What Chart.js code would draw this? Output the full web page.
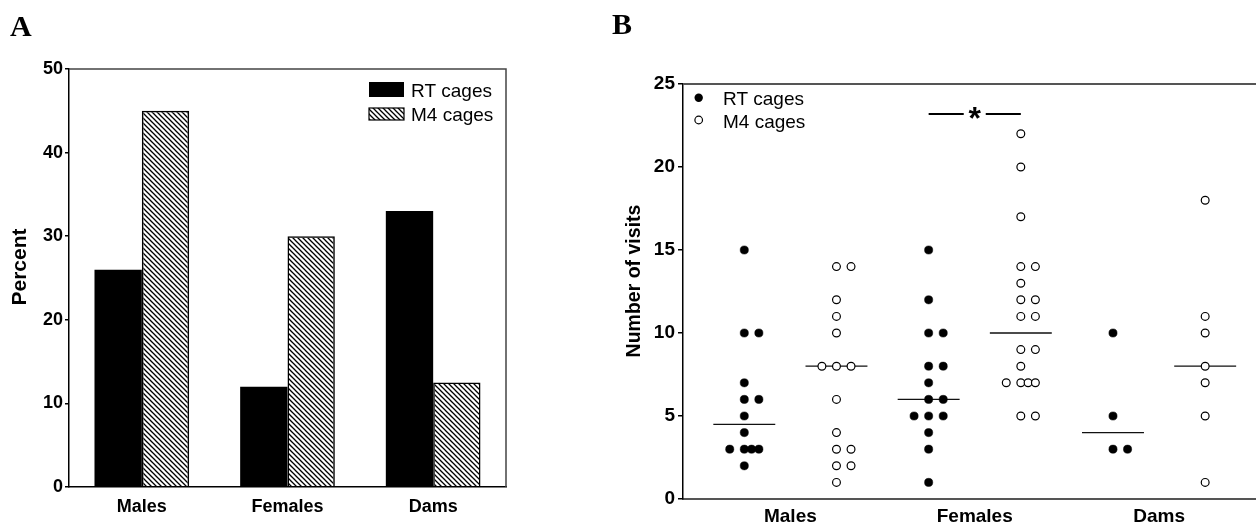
<!DOCTYPE html>
<html>
<head>
<meta charset="utf-8">
<script src="https://cdn.jsdelivr.net/npm/chart.js@4.4.1/dist/chart.umd.min.js"></script>
<style>
  body { margin: 0; background: #fff; }
  #wrap { position: relative; width: 1256px; height: 524px; overflow: hidden; }
  canvas { position: absolute; top: 0; }
  .panel { position: absolute; font-family: "Liberation Serif", "Times New Roman", serif; font-weight: bold; font-size: 30px; line-height: 30px; }
</style>
</head>
<body>
<div id="wrap">
  <canvas id="chartA" width="560" height="524" style="left:0"></canvas>
  <canvas id="chartB" width="696" height="524" style="left:560px"></canvas>
  <div class="panel" style="left:10px; top:11px">A</div>
  <div class="panel" style="left:612px; top:9px">B</div>
</div>
<script>
// ---- data ----
var groups = ["Males", "Females", "Dams"];
var pctRT = [26, 12, 33];
var pctM4 = [45, 30, 12.5];
var seriesNames = ["RT cages", "M4 cages"];

var visitsMalesRT = [15, 10, 10, 7, 6, 6, 5, 4, 3, 3, 3, 3, 2];
var visitsMalesM4 = [14, 14, 12, 11, 10, 8, 8, 8, 6, 4, 3, 3, 2, 2, 1];
var visitsFemalesRT = [15, 12, 10, 10, 8, 8, 7, 6, 6, 5, 5, 5, 4, 3, 1];
var visitsFemalesM4 = [22, 20, 17, 14, 14, 13, 12, 12, 11, 11, 9, 9, 8, 7, 7, 7, 7, 5, 5];
var visitsDamsRT = [10, 5, 3, 3];
var visitsDamsM4 = [18, 11, 10, 8, 7, 5, 1];
var medianVisits = [4.5, 8, 6, 10, 4, 8];
var sigLevel = 23.2;   // "*" bar between Females RT and M4

Chart.defaults.font.family = "'Liberation Sans', Arial, Helvetica, sans-serif";
Chart.defaults.color = "#000";

// hatch pattern for M4 bars
function makeHatch() {
	var c = document.createElement("canvas");
	c.width = 5; c.height = 5;
	var g = c.getContext("2d");
	g.strokeStyle = "#000";
	g.lineWidth = 1.25;
	[-5, 0, 5].forEach(function(o){
		g.beginPath();
		g.moveTo(o - 1, -1);
		g.lineTo(o + 6, 6);
		g.stroke();
	});
	return document.getElementById("chartA").getContext("2d").createPattern(c, "repeat");
}
var hatch = makeHatch();

function vText(ctx, txt, x, y, size){
	ctx.save();
	ctx.translate(x, y);
	ctx.rotate(-Math.PI / 2);
	ctx.font = "bold " + size + "px 'Liberation Sans', Arial, sans-serif";
	ctx.textAlign = "center";
	ctx.textBaseline = "middle";
	ctx.fillStyle = "#000";
	ctx.fillText(txt, 0, 0);
	ctx.restore();
}

// ---- panel A ----
var boxA = {
	id: "boxA",
	afterDraw: function(chart){
		var ctx = chart.ctx, a = chart.chartArea;
		ctx.save();
		ctx.strokeStyle = "#444";
		ctx.lineWidth = 1.5;
		ctx.beginPath();
		ctx.moveTo(a.left, a.top);
		ctx.lineTo(a.right, a.top);
		ctx.lineTo(a.right, a.bottom);
		ctx.stroke();
		// legend
		ctx.fillStyle = "#000";
		ctx.fillRect(369, 82, 35, 15);
		ctx.fillStyle = hatch;
		ctx.fillRect(369, 108, 35, 12);
		ctx.lineWidth = 1.2;
		ctx.strokeStyle = "#000";
		ctx.strokeRect(369, 108, 35, 12);
		ctx.fillStyle = "#000";
		ctx.font = "19px 'Liberation Sans', Arial, sans-serif";
		ctx.textBaseline = "alphabetic";
		ctx.fillText(seriesNames[0], 411, 97);
		ctx.fillText(seriesNames[1], 411, 121);
		ctx.restore();
		vText(ctx, "Percent", 20, 267, 21);
	}
};

new Chart(document.getElementById("chartA"), {
	type: "bar",
	data: {
		labels: groups,
		datasets: [
			{ label: seriesNames[0], data: pctRT, backgroundColor: "#000", borderWidth: 0,
			  categoryPercentage: 0.65, barPercentage: 1 },
			{ label: seriesNames[1], data: pctM4, backgroundColor: hatch, borderColor: "#000", borderWidth: 1.5,
			  categoryPercentage: 0.65, barPercentage: 1 }
		]
	},
	options: {
		responsive: false,
		animation: false,
		layout: { padding: { left: 5, top: 69, right: 54, bottom: 0 } },
		plugins: { legend: { display: false }, tooltip: { enabled: false } },
		scales: {
			x: {
				grid: { display: false, drawTicks: false },
				border: { color: "#000", width: 1.5 },
				ticks: { font: { size: 18, weight: "bold" }, padding: 9 },
				afterFit: function(s){ s.height = 37; }
			},
			y: {
				min: 0, max: 50,
				ticks: { stepSize: 10, font: { size: 18, weight: "bold" }, padding: 2 },
				grid: { drawOnChartArea: false, tickLength: 4, color: "#000", lineWidth: 1.5 },
				border: { color: "#000", width: 1.5 },
				afterFit: function(s){ s.width = 64; }
			}
		}
	},
	plugins: [boxA]
});

// ---- panel B ----
var SLOT_W = 0.158;
var SLOTS = { 1: [0], 2: [0, 1], 3: [-1, 0, 1], 4: [-1, 0, 0.5, 1] };
function swarm(values, col){
	var counts = {}, seen = {};
	values.forEach(function(v){ counts[v] = (counts[v] || 0) + 1; });
	return values.map(function(v){
		var k = seen[v] || 0;
		seen[v] = k + 1;
		return { x: col + SLOTS[counts[v]][k] * SLOT_W, y: v };
	});
}

var rtPoints = swarm(visitsMalesRT, 0).concat(swarm(visitsFemalesRT, 2), swarm(visitsDamsRT, 4));
var m4Points = swarm(visitsMalesM4, 1).concat(swarm(visitsFemalesM4, 3), swarm(visitsDamsM4, 5));

var MED_HALF = 0.336;
var medianPts = [];
medianVisits.forEach(function(m, c){
	medianPts.push({ x: c - MED_HALF, y: m }, { x: c + MED_HALF, y: m }, { x: c + 0.5, y: null });
});
var sigPts = [{ x: 2, y: sigLevel }, { x: 3, y: sigLevel }];

var boxB = {
	id: "boxB",
	afterDraw: function(chart){
		var ctx = chart.ctx, a = chart.chartArea;
		var xs = chart.scales.x, ys = chart.scales.y;
		ctx.save();
		ctx.strokeStyle = "#555";
		ctx.lineWidth = 2;
		ctx.beginPath();
		ctx.moveTo(a.left, a.top);
		ctx.lineTo(chart.width, a.top);
		ctx.moveTo(a.right - 2, a.bottom);
		ctx.lineTo(chart.width, a.bottom);
		ctx.stroke();
		// star over the significance bar
		var sx = xs.getPixelForValue(2.5), sy = ys.getPixelForValue(sigLevel);
		ctx.fillStyle = "#fff";
		ctx.fillRect(sx - 11, sy - 3, 22, 6);
		ctx.fillStyle = "#000";
		ctx.font = "bold 32px 'Liberation Sans', Arial, sans-serif";
		ctx.textAlign = "center";
		ctx.textBaseline = "alphabetic";
		ctx.fillText("*", sx, sy + 15);
		// legend
		ctx.lineWidth = 1.2;
		ctx.beginPath();
		ctx.arc(138.7, 97.7, 4.2, 0, Math.PI * 2);
		ctx.fill();
		ctx.beginPath();
		ctx.arc(138.7, 120, 3.8, 0, Math.PI * 2);
		ctx.fillStyle = "#fff";
		ctx.fill();
		ctx.strokeStyle = "#000";
		ctx.stroke();
		ctx.fillStyle = "#000";
		ctx.textAlign = "left";
		ctx.font = "19px 'Liberation Sans', Arial, sans-serif";
		ctx.fillText(seriesNames[0], 163, 105);
		ctx.fillText(seriesNames[1], 163, 128);
		ctx.restore();
		vText(ctx, "Number of visits", 75, 281, 19.5);
	}
};

new Chart(document.getElementById("chartB"), {
	type: "scatter",
	data: {
		datasets: [
			{ label: seriesNames[0], data: rtPoints, pointRadius: 4.1, pointBackgroundColor: "#000",
			  pointBorderColor: "#000", pointBorderWidth: 0.5, order: 0 },
			{ label: seriesNames[1], data: m4Points, pointRadius: 3.9, pointBackgroundColor: "#fff",
			  pointBorderColor: "#000", pointBorderWidth: 1.2, order: 0 },
			{ label: "median", data: medianPts, showLine: true, spanGaps: false, borderColor: "#111",
			  borderWidth: 1.3, pointRadius: 0, order: 1 },
			{ label: "sig", data: sigPts, showLine: true, borderColor: "#000", borderWidth: 2,
			  pointRadius: 0, order: 1, clip: false }
		]
	},
	options: {
		responsive: false,
		animation: false,
		layout: { padding: { left: 60, top: 84, right: 0, bottom: 0 } },
		plugins: { legend: { display: false }, tooltip: { enabled: false } },
		scales: {
			x: {
				type: "linear",
				min: -0.665, max: 5.495,
				grid: { display: false, drawTicks: false },
				border: { color: "#555", width: 2 },
				ticks: { font: { size: 19, weight: "bold" }, padding: 6,
					callback: function(v, i){ return groups[i] || ""; } },
				afterBuildTicks: function(s){
					s.ticks = groups.map(function(g, i){ return { value: i * 2 + 0.5 }; });
				},
				afterFit: function(s){ s.height = 25; }
			},
			y: {
				min: 0, max: 25,
				ticks: { stepSize: 5, font: { size: 19, weight: "bold" }, padding: 3 },
				grid: { drawOnChartArea: false, tickLength: 5, color: "#000", lineWidth: 1.5 },
				border: { color: "#000", width: 1.5 },
				afterFit: function(s){ s.width = 63; }
			}
		}
	},
	plugins: [boxB]
});
</script>
</body>
</html>
